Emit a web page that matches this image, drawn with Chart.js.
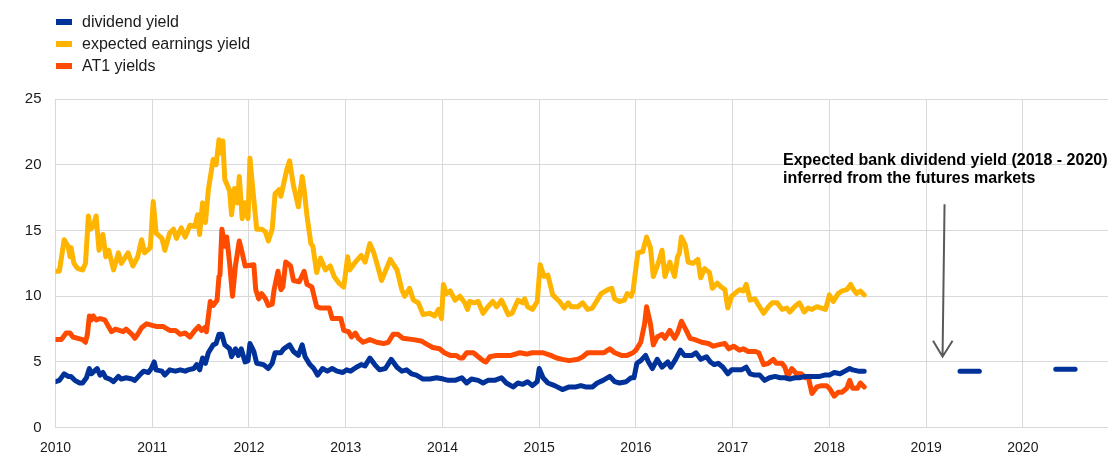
<!DOCTYPE html>
<html>
<head>
<meta charset="utf-8">
<script src="https://cdn.jsdelivr.net/npm/chart.js@4/dist/chart.umd.min.js"></script>
<style>
  body { margin: 0; background: #fff; }
  #wrap { width: 1109px; height: 466px; position: relative; }
</style>
</head>
<body>
<div id="wrap"><canvas id="chart"></canvas></div>
<script>
// dividend yield (weekly readings, years as decimals)
var divX = [2010.00,2010.04,2010.09,2010.13,2010.16,2010.20,2010.25,2010.28,2010.32,2010.35,2010.37,2010.40,2010.43,2010.46,2010.49,2010.52,2010.56,2010.60,2010.65,2010.68,2010.73,2010.79,2010.82,2010.87,2010.91,2010.96,2010.99,
  2011.02,2011.04,2011.10,2011.13,2011.18,2011.24,2011.29,2011.34,2011.37,2011.43,2011.46,2011.49,2011.52,2011.55,2011.58,2011.63,2011.66,2011.69,2011.72,2011.75,2011.80,2011.82,2011.86,2011.89,2011.92,2011.96,2011.99,
  2012.01,2012.05,2012.08,2012.15,2012.20,2012.24,2012.27,2012.33,2012.36,2012.42,2012.46,2012.51,2012.55,2012.58,2012.63,2012.67,2012.71,2012.76,2012.81,2012.86,2012.91,2012.97,
  2013.01,2013.05,2013.11,2013.16,2013.20,2013.25,2013.30,2013.35,2013.41,2013.47,2013.53,2013.58,2013.63,2013.68,2013.73,2013.80,2013.87,2013.94,
  2014.01,2014.06,2014.13,2014.20,2014.25,2014.30,2014.37,2014.42,2014.47,2014.54,2014.61,2014.66,2014.73,2014.78,2014.83,2014.88,2014.93,2014.98,
  2015.00,2015.04,2015.09,2015.16,2015.24,2015.31,2015.38,2015.43,2015.48,2015.55,2015.60,2015.66,2015.73,2015.78,2015.83,2015.90,2015.95,2015.98,
  2016.01,2016.05,2016.10,2016.13,2016.17,2016.22,2016.27,2016.33,2016.36,2016.41,2016.46,2016.50,2016.58,2016.62,2016.67,2016.73,2016.77,2016.81,2016.85,2016.90,2016.95,2016.99,
  2017.04,2017.09,2017.14,2017.18,2017.23,2017.28,2017.33,2017.38,2017.44,2017.49,2017.54,2017.59,2017.64,2017.69,2017.75,2017.80,2017.85,2017.90,2017.95,
  2018.00,2018.05,2018.11,2018.16,2018.21,2018.24,2018.30,2018.36];
var divY = [3.5,3.6,4.1,3.9,3.9,3.6,3.4,3.4,3.8,4.5,4.1,4.3,4.5,4.0,4.2,3.8,3.7,3.5,3.9,3.7,3.8,3.7,3.6,4.0,4.3,4.2,4.5,
  5.0,4.4,4.3,4.0,4.4,4.3,4.4,4.3,4.4,4.5,4.8,4.4,5.3,4.9,5.7,6.3,6.4,7.1,7.1,6.3,6.0,5.4,6.0,5.5,6.0,5.0,5.1,
  6.4,5.8,4.9,4.8,4.5,4.9,5.7,5.7,6.0,6.3,5.8,5.5,6.3,5.4,4.8,4.5,4.0,4.5,4.3,4.5,4.3,4.2,
  4.4,4.3,4.6,4.8,4.7,5.3,4.8,4.4,4.5,5.2,4.6,4.3,4.4,4.1,4.0,3.7,3.7,3.8,
  3.7,3.6,3.6,3.8,3.4,3.7,3.6,3.4,3.6,3.6,3.8,3.4,3.1,3.4,3.3,3.5,3.2,3.5,
  4.5,3.8,3.4,3.2,2.9,3.1,3.1,3.2,3.1,3.1,3.4,3.6,3.9,3.5,3.4,3.5,3.8,3.8,
  4.9,5.1,5.5,5.0,4.5,5.2,4.6,5.0,4.6,5.2,5.9,5.5,5.5,5.7,5.2,5.4,5.0,4.8,4.9,4.6,4.1,4.4,
  4.4,4.4,4.6,4.1,4.0,4.0,3.6,3.8,3.9,3.8,3.8,3.7,3.8,3.8,3.9,3.9,3.9,3.9,4.0,
  4.0,4.2,4.1,4.3,4.5,4.4,4.3,4.3];

// expected earnings yield
var eyX = [2010.00,2010.04,2010.09,2010.13,2010.15,2010.16,2010.19,2010.23,2010.28,2010.31,2010.34,2010.36,2010.39,2010.42,2010.45,2010.49,2010.52,2010.55,2010.60,2010.65,2010.68,2010.75,2010.80,2010.85,2010.89,2010.92,2010.98,
  2011.01,2011.04,2011.10,2011.13,2011.18,2011.22,2011.25,2011.30,2011.34,2011.39,2011.44,2011.47,2011.49,2011.52,2011.55,2011.58,2011.63,2011.66,2011.69,2011.71,2011.73,2011.75,2011.80,2011.82,2011.85,2011.88,2011.90,2011.93,2011.96,2011.99,
  2012.01,2012.04,2012.08,2012.13,2012.17,2012.20,2012.24,2012.27,2012.31,2012.33,2012.36,2012.39,2012.42,2012.46,2012.48,2012.51,2012.55,2012.57,2012.60,2012.64,2012.66,2012.70,2012.74,2012.79,2012.84,2012.88,2012.93,2012.98,
  2013.02,2013.04,2013.10,2013.16,2013.20,2013.25,2013.29,2013.33,2013.37,2013.41,2013.46,2013.53,2013.58,2013.61,2013.66,2013.70,2013.75,2013.80,2013.87,2013.92,2013.96,2013.99,
  2014.01,2014.04,2014.08,2014.13,2014.18,2014.23,2014.26,2014.28,2014.33,2014.37,2014.42,2014.47,2014.52,2014.56,2014.61,2014.68,2014.72,2014.78,2014.83,2014.85,2014.88,2014.93,2014.98,
  2015.01,2015.05,2015.09,2015.14,2015.21,2015.26,2015.30,2015.33,2015.40,2015.45,2015.50,2015.55,2015.60,2015.64,2015.71,2015.75,2015.78,2015.83,2015.88,2015.91,2015.95,2015.97,
  2016.02,2016.07,2016.11,2016.15,2016.18,2016.23,2016.27,2016.30,2016.35,2016.40,2016.43,2016.45,2016.47,2016.51,2016.54,2016.59,2016.64,2016.67,2016.71,2016.76,2016.79,2016.84,2016.88,2016.92,2016.95,2016.99,
  2017.02,2017.07,2017.11,2017.14,2017.18,2017.23,2017.27,2017.32,2017.37,2017.41,2017.46,2017.51,2017.56,2017.59,2017.64,2017.69,2017.74,2017.78,2017.82,2017.87,2017.92,2017.96,
  2018.00,2018.04,2018.09,2018.13,2018.18,2018.22,2018.24,2018.28,2018.32,2018.36];
var eyY = [11.9,11.9,14.3,13.8,13.0,13.7,12.5,12.1,12.0,12.5,16.1,15.1,15.3,16.1,13.5,14.7,13.0,13.5,12.0,13.3,12.5,13.3,12.3,13.0,14.3,13.3,13.7,
  17.2,14.8,14.4,13.5,14.8,15.1,14.4,15.2,14.5,15.4,15.3,16.2,14.7,17.1,15.6,18.1,20.4,20.0,21.9,20.9,21.8,18.9,18.0,16.2,18.2,17.1,19.1,15.9,17.1,15.9,
  20.5,18.1,15.1,15.1,14.9,14.2,15.1,17.8,18.1,17.6,18.6,19.6,20.3,18.4,17.8,16.8,19.1,18.1,16.1,14.0,13.8,11.8,12.9,12.0,12.3,11.5,11.0,10.7,
  13.0,12.0,12.6,13.1,12.6,14.0,13.3,12.3,11.2,11.9,12.8,12.0,10.5,10.0,10.6,9.7,9.5,8.6,8.7,8.5,9.0,8.3,
  10.9,10.2,10.4,9.7,10.0,9.5,9.0,9.6,9.5,9.6,8.7,9.2,9.6,9.2,9.7,8.6,8.7,9.7,9.5,9.8,9.2,9.0,9.6,
  12.4,11.5,11.6,10.1,9.6,9.1,9.5,9.2,9.2,9.5,9.0,9.1,9.7,10.2,10.5,10.6,9.8,9.6,9.7,10.2,10.0,10.4,
  13.3,13.4,14.5,13.7,11.5,12.5,13.5,11.5,12.6,11.5,13.0,13.3,14.5,13.9,12.6,12.5,12.8,11.4,12.1,11.8,10.6,11.0,10.7,10.5,9.1,10.0,
  10.2,10.5,10.4,10.9,9.7,9.8,9.3,8.7,9.2,9.5,9.5,9.0,9.1,8.8,9.2,9.5,8.8,9.1,9.0,9.2,9.1,9.0,
  10.1,9.6,10.2,10.4,10.5,10.9,10.6,10.2,10.4,10.1];

// AT1 yields
var at1X = [2010.00,2010.06,2010.11,2010.15,2010.18,2010.23,2010.28,2010.31,2010.33,2010.35,2010.37,2010.39,2010.42,2010.46,2010.51,2010.54,2010.58,2010.62,2010.66,2010.70,2010.73,2010.79,2010.82,2010.85,2010.89,2010.94,2010.99,
  2011.04,2011.11,2011.18,2011.24,2011.29,2011.34,2011.39,2011.44,2011.48,2011.51,2011.54,2011.56,2011.60,2011.63,2011.67,2011.69,2011.70,2011.72,2011.75,2011.77,2011.80,2011.83,2011.86,2011.90,2011.93,2011.96,
  2012.05,2012.07,2012.10,2012.13,2012.17,2012.20,2012.24,2012.26,2012.30,2012.33,2012.35,2012.38,2012.43,2012.46,2012.52,2012.57,2012.60,2012.65,2012.70,2012.74,2012.83,2012.86,2012.95,2012.98,
  2013.03,2013.06,2013.10,2013.13,2013.18,2013.25,2013.32,2013.39,2013.44,2013.49,2013.54,2013.59,2013.70,2013.78,2013.85,2013.90,2013.97,
  2014.02,2014.08,2014.14,2014.18,2014.21,2014.25,2014.32,2014.37,2014.42,2014.45,2014.49,2014.56,2014.63,2014.71,2014.80,2014.87,2014.93,
  2015.04,2015.12,2015.18,2015.24,2015.31,2015.40,2015.45,2015.50,2015.59,2015.67,2015.73,2015.78,2015.85,2015.91,2015.97,
  2016.00,2016.05,2016.09,2016.11,2016.15,2016.18,2016.22,2016.27,2016.30,2016.35,2016.40,2016.43,2016.47,2016.52,2016.56,2016.61,2016.68,2016.75,2016.80,2016.85,2016.92,2016.96,
  2017.01,2017.07,2017.11,2017.16,2017.23,2017.27,2017.32,2017.37,2017.42,2017.45,2017.51,2017.54,2017.57,2017.61,2017.66,2017.71,2017.75,2017.78,2017.82,2017.87,2017.92,2017.97,
  2018.00,2018.05,2018.09,2018.13,2018.18,2018.21,2018.24,2018.29,2018.32,2018.36];
var at1Y = [6.7,6.7,7.2,7.2,6.9,6.8,6.7,6.5,7.1,8.5,8.2,8.5,8.2,8.3,8.2,7.8,7.3,7.5,7.4,7.3,7.5,7.1,6.8,7.1,7.6,7.9,7.8,
  7.7,7.7,7.4,7.4,7.1,7.2,6.9,7.4,7.7,7.4,7.6,7.3,9.6,9.3,9.7,11.5,11.6,15.1,13.8,14.5,12.5,10.0,12.3,14.2,13.3,12.3,
  12.4,10.5,9.8,10.2,9.8,9.3,9.4,10.5,11.9,10.5,10.7,12.6,12.3,11.2,11.1,11.9,10.9,10.7,9.2,9.1,9.1,8.3,8.3,7.4,
  7.3,6.9,7.2,6.8,6.5,6.7,6.5,6.4,6.5,7.1,7.1,6.8,6.7,6.6,6.3,6.1,6.0,
  5.7,5.5,5.5,5.3,5.3,5.7,5.7,5.4,5.1,5.0,5.4,5.5,5.5,5.5,5.7,5.6,5.7,
  5.7,5.5,5.3,5.2,5.1,5.2,5.4,5.7,5.7,5.7,6.0,5.7,5.5,5.5,5.7,
  5.9,6.5,7.9,9.2,7.9,6.3,6.9,7.1,6.8,7.4,6.8,7.2,8.1,7.4,6.8,6.7,6.5,6.4,6.2,6.3,6.4,6.0,
  6.2,5.9,6.0,5.8,5.8,5.7,4.8,4.9,5.2,4.9,4.9,4.6,3.9,4.5,4.1,4.1,3.8,3.9,2.6,3.1,3.2,3.2,
  3.0,2.4,2.7,2.7,3.0,3.6,3.0,3.0,3.4,3.1];

// expected dividend yield from futures (2019, 2020)
var fcX = [2019.35, 2019.55, 2019.95, 2020.34, 2020.54];
var fcY = [4.3, 4.3, null, 4.45, 4.45];

var seriesNames = ["dividend yield", "expected earnings yield", "AT1 yields"];
var seriesColors = ["#003299", "#FFB400", "#FF4B00"];
var noteLines = ["Expected bank dividend yield (2018 - 2020)", "inferred from the futures markets"];

function pts(xs, ys) {
    var out = [];
    for (var i = 0; i < xs.length; i++) out.push({x: xs[i], y: ys[i]});
    return out;
}

var FONT = '"Liberation Sans", Arial, sans-serif';

function lineSet(label, xs, ys, color) {
    return {
        label: label,
        data: pts(xs, ys),
        borderColor: color,
        backgroundColor: color,
        borderWidth: 5,
        pointRadius: 0,
        tension: 0,
        borderJoinStyle: 'round',
        borderCapStyle: 'round',
        fill: false
    };
}

// legend + annotation drawn on top
var extras = {
    id: 'extras',
    afterDraw: function (chart) {
        var ctx = chart.ctx, x = chart.scales.x, y = chart.scales.y;
        ctx.save();
        ctx.font = '16px ' + FONT;
        ctx.textBaseline = 'middle';
        for (var i = 0; i < seriesNames.length; i++) {
            var ly = 22 + i * 22;
            ctx.fillStyle = seriesColors[i];
            ctx.fillRect(56, ly - 3, 16, 6);
            ctx.fillStyle = '#1a1a1a';
            ctx.fillText(seriesNames[i], 82, ly + 1);
        }
        // note
        ctx.font = 'bold 16px ' + FONT;
        ctx.fillStyle = '#000';
        ctx.textAlign = 'left';
        var tx = x.getPixelForValue(2017.52);
        ctx.fillText(noteLines[0], tx, y.getPixelForValue(20.3));
        ctx.fillText(noteLines[1], tx, y.getPixelForValue(18.95));
        // arrow
        var ax = x.getPixelForValue(2019.18), a0 = y.getPixelForValue(17.0), a1 = y.getPixelForValue(5.4);
        ctx.strokeStyle = '#595959';
        ctx.lineWidth = 2;
        ctx.beginPath();
        ctx.moveTo(ax + 1, a0);
        ctx.lineTo(ax - 1, a1);
        ctx.moveTo(ax - 10.5, a1 - 16);
        ctx.lineTo(ax - 1, a1);
        ctx.lineTo(ax + 9, a1 - 16);
        ctx.stroke();
        ctx.restore();
    }
};

var ctx = document.getElementById("chart");
var myChart = new Chart(ctx, {
    type: 'line',
    data: {
        datasets: [
            lineSet(seriesNames[0], divX, divY, seriesColors[0]),
            lineSet(seriesNames[1], eyX, eyY, seriesColors[1]),
            lineSet(seriesNames[2], at1X, at1Y, seriesColors[2]),
            lineSet("forecast", fcX, fcY, seriesColors[0])
        ]
    },
    options: {
        responsive: true,
        maintainAspectRatio: false,
        animation: false,
        layout: { padding: { top: 99, right: 1, left: 0, bottom: 0 } },
        plugins: {
            legend: { display: false },
            tooltip: { enabled: false }
        },
        scales: {
            x: {
                type: 'linear',
                min: 2010,
                max: 2020.88,
                afterFit: function (s) { s.height = 38.3; },
                grid: { color: '#d9d9d9', lineWidth: 1, drawTicks: false },
                border: { display: false },
                ticks: {
                    stepSize: 1,
                    includeBounds: false,
                    autoSkip: false,
                    maxRotation: 0,
                    padding: 12,
                    color: '#1a1a1a',
                    font: { family: FONT, size: 14 },
                    callback: function (v) { return String(v); }
                }
            },
            y: {
                min: 0,
                max: 25,
                afterFit: function (s) { s.width = 55.5; },
                grid: { color: '#d9d9d9', lineWidth: 1, drawTicks: false },
                border: { display: false },
                ticks: {
                    stepSize: 5,
                    padding: 14,
                    color: '#1a1a1a',
                    font: { family: FONT, size: 15 }
                }
            }
        }
    },
    plugins: [extras]
});
</script>
</body>
</html>
